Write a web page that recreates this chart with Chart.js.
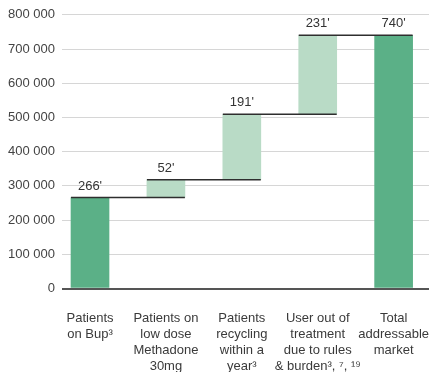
<!DOCTYPE html>
<html>
<head>
<meta charset="utf-8">
<script src="https://cdn.jsdelivr.net/npm/chart.js@4"></script>
<style>
  html, body { margin: 0; padding: 0; background: #fff; overflow: hidden; }
  #wrap { width: 429px; height: 372px; }
</style>
</head>
<body>
<div id="wrap"><canvas id="c" width="429" height="372"></canvas></div>
<script>
// Waterfall: addressable market build-up
const categories = [
  ["Patients", "on Bup³"],
  ["Patients on", "low dose", "Methadone", "30mg"],
  ["Patients", "recycling", "within a", "year³"],
  ["User out of", "treatment", "due to rules", "& burden³, ⁷, ¹⁹"],
  ["Total", "addressable", "market"]
];
const steps = [266000, 52000, 191000, 231000];
const total = 740000;
const valueLabels = ["266'", "52'", "191'", "231'", "740'"];
const yTickValues = [0, 100000, 200000, 300000, 400000, 500000, 600000, 700000, 800000];

const DARK = '#5bb087';
const LIGHT = '#b9dbc6';
const BAR_PX = 38;

// floating ranges for each step, then the total from zero
const ranges = [];
let running = 0;
steps.forEach(v => { ranges.push([running, running + v]); running += v; });
ranges.push([0, total]);
const barData = ranges.map((r, i) => ({ x: i, y: r }));
const barColors = ranges.map((r, i) => (i === 0 || i === ranges.length - 1) ? DARK : LIGHT);

// connector at each cumulative top, from the bar's left edge to the next bar's right edge
const HALF = 0.25;
const connectorData = [];
for (let i = 0; i < steps.length; i++) {
  const top = ranges[i][1];
  connectorData.push({ x: i - HALF, y: top }, { x: i + 1 + HALF, y: top }, { x: i + 1 + HALF, y: null });
}

const fmt = v => String(v).replace(/\B(?=(\d{3})+(?!\d))/g, ' ');

const valueLabelPlugin = {
  id: 'valueLabels',
  afterDatasetsDraw(chart) {
    const meta = chart.getDatasetMeta(1);
    const ctx = chart.ctx;
    ctx.save();
    ctx.font = '13px "Liberation Sans", Arial, sans-serif';
    ctx.fillStyle = '#333';
    ctx.textAlign = 'center';
    ctx.textBaseline = 'bottom';
    meta.data.forEach((el, i) => {
      const top = Math.min(el.y, el.base);
      ctx.fillText(valueLabels[i], el.x, top - 5);
    });
    ctx.restore();
  }
};

new Chart(document.getElementById('c'), {
  type: 'bar',
  data: {
    datasets: [
      {
        type: 'line',
        data: connectorData,
        borderColor: '#2e2e2e',
        borderWidth: 1.5,
        pointRadius: 0,
        spanGaps: false,
        fill: false,
        order: 0
      },
      {
        type: 'bar',
        data: barData,
        backgroundColor: barColors,
        barThickness: BAR_PX,
        borderWidth: 0,
        order: 1
      }
    ]
  },
  options: {
    responsive: false,
    devicePixelRatio: 1,
    animation: false,
    layout: { padding: { top: 11, right: 0, bottom: 0, left: 0 } },
    plugins: { legend: { display: false }, tooltip: { enabled: false } },
    scales: {
      x: {
        type: 'linear',
        offset: false,
        min: -0.369,
        max: 4.466,
        grid: { display: false, drawTicks: false, offset: false },
        border: { display: false },
        afterBuildTicks(scale) { scale.ticks = categories.map((_, i) => ({ value: i })); },
        afterFit(scale) { scale.height = 83.5; scale.paddingLeft = 0; scale.paddingRight = 0; },
        ticks: {
          autoSkip: false,
          maxRotation: 0,
          padding: 22,
          color: '#3a3a3a',
          font: { family: '"Liberation Sans", Arial, sans-serif', size: 13, lineHeight: 16 / 13 },
          callback: v => categories[v]
        }
      },
      y: {
        min: 0,
        max: 800000,
        afterBuildTicks(scale) { scale.ticks = yTickValues.map(v => ({ value: v })); },
        afterFit(scale) { scale.width = 62; },
        grid: {
          drawTicks: false,
          color: c => c.tick && c.tick.value === 0 ? '#555' : '#d6d6d6',
          lineWidth: c => c.tick && c.tick.value === 0 ? 2 : 1
        },
        border: { display: false },
        ticks: {
          padding: 7,
          color: '#444',
          font: { family: '"Liberation Sans", Arial, sans-serif', size: 13 },
          callback: v => fmt(v)
        }
      }
    }
  },
  plugins: [valueLabelPlugin]
});
</script>
</body>
</html>
